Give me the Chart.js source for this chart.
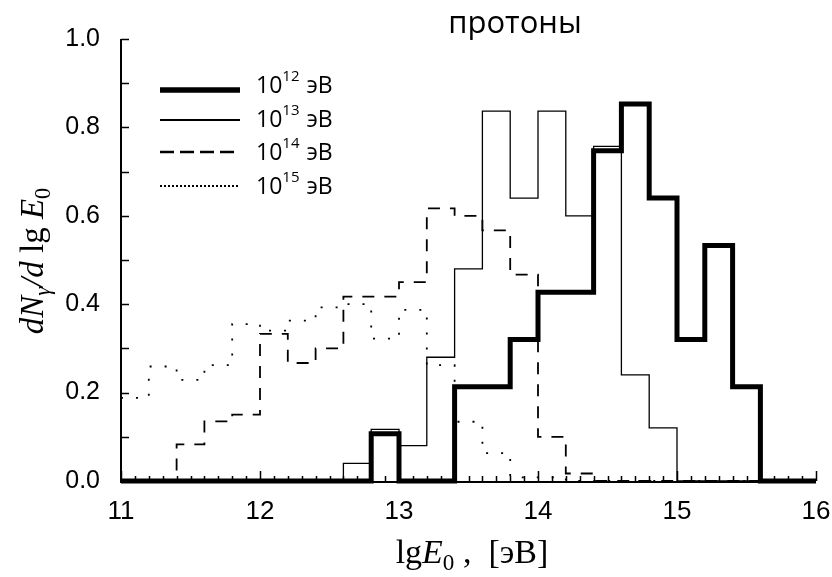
<!DOCTYPE html>
<html>
<head>
<meta charset="utf-8">
<script src="https://cdn.jsdelivr.net/npm/chart.js@4.4.0/dist/chart.umd.min.js"></script>
<style>
  html, body { margin: 0; padding: 0; background: #fff; }
  #chart { display: block; }
</style>
</head>
<body>
<canvas id="chart" width="832" height="577"></canvas>
<script>
// left edges of the 0.2-wide bins, plus the closing edge
const binEdges = [11.0, 11.2, 11.4, 11.6, 11.8, 12.0, 12.2, 12.4, 12.6, 12.8, 13.0, 13.2, 13.4,
                  13.6, 13.8, 14.0, 14.2, 14.4, 14.6, 14.8, 15.0, 15.2, 15.4, 15.6, 15.8, 16.0];

// one value per bin (25 bins)
const e12 = [0, 0, 0, 0, 0, 0, 0, 0, 0, 0.107, 0, 0, 0.213, 0.213, 0.32, 0.427, 0.427,
             0.747, 0.853, 0.64, 0.32, 0.533, 0.213, 0, 0];
const e13 = [0, 0, 0, 0, 0, 0, 0, 0, 0.04, 0.117, 0.08, 0.28, 0.48, 0.837, 0.64, 0.837, 0.6,
             0.757, 0.24, 0.12, 0, 0, 0, 0, 0];
const e14 = [0, 0, 0.083, 0.135, 0.15, 0.333, 0.267, 0.3, 0.417, 0.417, 0.45, 0.617, 0.6,
             0.567, 0.467, 0.1, 0.017, 0, 0, 0, 0, 0, 0, 0, 0];
const e15 = [0.188, 0.259, 0.229, 0.262, 0.355, 0.34, 0.363, 0.393, 0.4, 0.322, 0.387, 0.262,
             0.134, 0.063, 0.008, 0.008, 0, 0, 0, 0, 0, 0, 0, 0, 0];

const xTicks = [11, 12, 13, 14, 15, 16];
const yTicks = [0, 0.2, 0.4, 0.6, 0.8, 1.0];
const legendExp = ['12', '13', '14', '15'];
const unitText = 'эВ';
const titleText = 'протоны';

const styles = [
  { width: 5, dash: [], legendWidth: 5.5, legendDash: [] },
  { width: 1.3, dash: [], legendWidth: 2, legendDash: [] },
  { width: 1.8, dash: [12, 10], legendWidth: 2.4, legendDash: [14, 6] },
  { width: 1.8, dash: [2, 13], legendWidth: 2, legendDash: [2, 2] }
];

function histPoints(values) {
  const pts = values.map((v, i) => ({ x: binEdges[i], y: v }));
  pts.push({ x: binEdges[binEdges.length - 1], y: values[values.length - 1] });
  return pts;
}

function makeSet(values, st) {
  return {
    data: histPoints(values),
    borderColor: '#000',
    borderWidth: st.width,
    borderDash: st.dash,
    stepped: true,
    pointRadius: 0,
    fill: false,
    clip: false,
    borderCapStyle: 'butt',
    borderJoinStyle: 'miter'
  };
}

function drawPieces(ctx, pieces, x, y, size, family) {
  pieces.forEach(p => {
    const fs = p.sub ? size * 0.68 : size;
    ctx.font = (p.italic ? 'italic ' : '') + fs + 'px ' + family;
    ctx.fillText(p.t, x, y + (p.sub ? size * 0.2 : 0));
    x += ctx.measureText(p.t).width;
  });
  return x;
}

function piecesWidth(ctx, pieces, size, family) {
  let w = 0;
  pieces.forEach(p => {
    const fs = p.sub ? size * 0.68 : size;
    ctx.font = (p.italic ? 'italic ' : '') + fs + 'px ' + family;
    w += ctx.measureText(p.t).width;
  });
  return w;
}

const decorPlugin = {
  id: 'decor',
  beforeDatasetsDraw(chart) {
    const ctx = chart.ctx;
    const xs = chart.scales.x, ys = chart.scales.y;
    const left = xs.left, right = xs.right, bottom = ys.bottom, top = ys.top;
    ctx.save();
    ctx.strokeStyle = '#000';
    ctx.lineWidth = 2;
    ctx.beginPath();
    ctx.moveTo(left, top);
    ctx.lineTo(left, bottom + 1);
    ctx.lineTo(right, bottom + 1);
    ctx.stroke();
    ctx.lineWidth = 1.5;
    ctx.beginPath();
    for (let i = 0; i <= 10; i++) {
      const y = Math.round(ys.getPixelForValue(i / 10)) + 0.5;
      ctx.moveTo(left, y);
      ctx.lineTo(left + 8, y);
    }
    for (let i = 0; i <= 50; i++) {
      const x = Math.round(xs.getPixelForValue(11 + i / 10)) + 0.5;
      const len = i % 10 === 0 ? 10 : 5;
      ctx.moveTo(x, bottom);
      ctx.lineTo(x, bottom - len);
    }
    ctx.stroke();
    ctx.restore();
  },
  afterDraw(chart) {
    const ctx = chart.ctx;
    ctx.save();
    ctx.fillStyle = '#000';
    ctx.textBaseline = 'alphabetic';

    // title
    ctx.font = '31px "Open Sans"';
    ctx.textAlign = 'center';
    ctx.fillText(titleText, 515, 33);
    ctx.textAlign = 'left';

    // legend
    const rows = [93, 127, 160, 194];
    const lineY = [90, 120, 152, 186];
    styles.forEach((st, i) => {
      ctx.strokeStyle = '#000';
      ctx.lineWidth = st.legendWidth;
      ctx.setLineDash(st.legendDash);
      ctx.beginPath();
      ctx.moveTo(160, lineY[i]);
      ctx.lineTo(240, lineY[i]);
      ctx.stroke();
      ctx.setLineDash([]);
      ctx.font = '23px "Open Sans"';
      ctx.fillText('10', 256, rows[i]);
      let x = 256 + ctx.measureText('10').width;
      ctx.font = '15px "Open Sans"';
      ctx.fillText(legendExp[i], x, rows[i] - 12);
      x += ctx.measureText(legendExp[i]).width;
      ctx.font = '23px "Open Sans"';
      ctx.fillText(' ' + unitText, x + 1, rows[i]);
    });

    // x axis title
    const serif = '"Liberation Serif", "DejaVu Serif", serif';
    const xt = [
      { t: 'lg' }, { t: 'E', italic: true }, { t: '0', sub: true }, { t: ' ,  [' + unitText + ']' }
    ];
    const xw = piecesWidth(ctx, xt, 34, serif);
    drawPieces(ctx, xt, 472 - xw / 2, 563, 34, serif);

    // y axis title (rotated)
    const yt = [
      { t: 'd', italic: true }, { t: 'N', italic: true }, { t: 'γ', italic: true, sub: true },
      { t: '/', italic: true }, { t: 'd', italic: true }, { t: ' lg ' }, { t: 'E', italic: true },
      { t: '0', sub: true }
    ];
    const yw = piecesWidth(ctx, yt, 33, serif);
    ctx.translate(43, 261);
    ctx.rotate(-Math.PI / 2);
    drawPieces(ctx, yt, -yw / 2, 0, 33, serif);
    ctx.restore();
  }
};

new Chart(document.getElementById('chart'), {
  type: 'line',
  data: {
    datasets: [
      makeSet(e15, styles[3]),
      makeSet(e14, styles[2]),
      makeSet(e13, styles[1]),
      makeSet(e12, styles[0])
    ]
  },
  options: {
    responsive: false,
    animation: false,
    layout: { padding: { top: 39, right: 16, left: 0, bottom: 0 } },
    plugins: { legend: { display: false }, tooltip: { enabled: false }, title: { display: false } },
    scales: {
      x: {
        type: 'linear',
        min: 11,
        max: 16,
        afterBuildTicks: s => { s.ticks = xTicks.map(v => ({ value: v })); },
        afterFit: s => { s.height = 96; s.paddingRight = 0; s.paddingLeft = 0; },
        grid: { display: false, drawTicks: false },
        border: { display: false },
        ticks: {
          color: '#000',
          padding: 15,
          maxRotation: 0,
          font: { family: '"Liberation Sans", Arial, sans-serif', size: 26 },
          callback: v => String(v)
        }
      },
      y: {
        min: 0,
        max: 1,
        afterBuildTicks: s => { s.ticks = yTicks.map(v => ({ value: v })); },
        afterFit: s => { s.width = 121; s.paddingTop = 0; s.paddingBottom = 0; },
        grid: { display: false, drawTicks: false },
        border: { display: false },
        ticks: {
          color: '#000',
          padding: 21,
          font: { family: '"Liberation Sans", Arial, sans-serif', size: 25 },
          callback: v => Number(v).toFixed(1)
        }
      }
    }
  },
  plugins: [decorPlugin]
});
</script>
</body>
</html>
